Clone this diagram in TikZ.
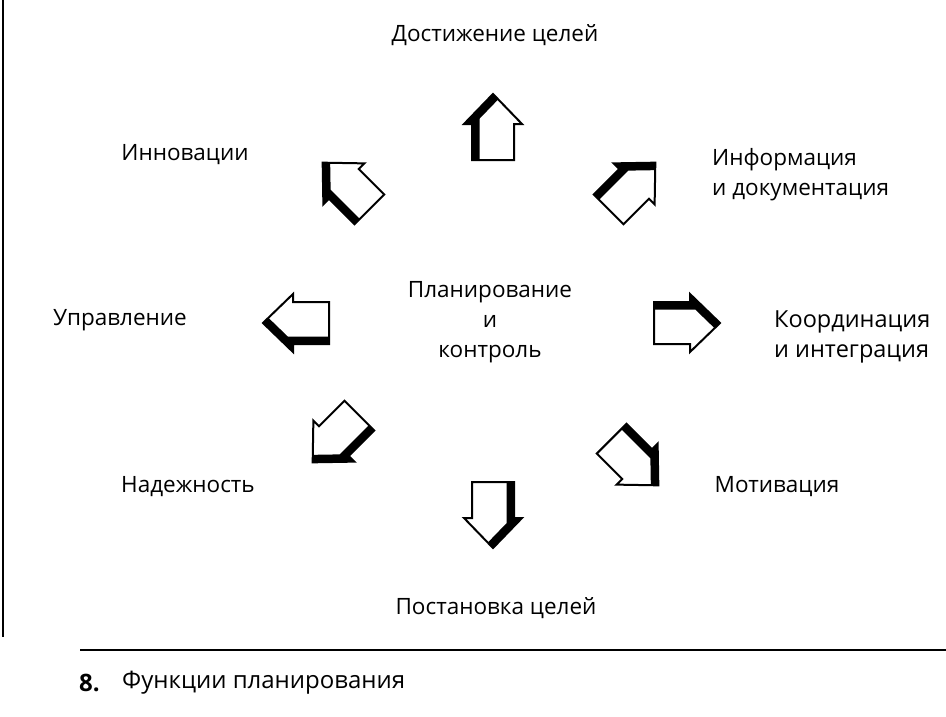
\documentclass[tikz,border=0pt]{standalone}
\usepackage{fontspec}
\setmainfont{Open Sans}
\tikzset{
  lbl/.style={font=\fontsize{22.5}{30}\selectfont, inner sep=0pt},
  biglbl/.style={font=\fontsize{23.5}{30}\selectfont, inner sep=0pt},
  caplbl/.style={font=\fontsize{24}{30}\selectfont, inner sep=0pt},
  arrface/.style={fill=white},
  arredge/.style={draw=black, line width=2pt, line join=miter},
  arrshade/.style={draw=black, line width=15pt, line join=miter}
}
\newcommand\arrshape{(0,33) -- (29,3) -- (21,3) -- (21,-33) -- (-21,-33) -- (-21,3) -- (-29,3) -- cycle}
\newcommand\blockarrow[2]{%
  \begin{scope}[shift={#1}, rotate=#2-90]
    \path[arrface] \arrshape;
    \begin{scope}
      \clip \arrshape;
      \draw[arrshade] (0,33) -- (-29,3) -- (-21,3) -- (-21,-33);
    \end{scope}
    \draw[arredge] \arrshape;
  \end{scope}}
\begin{document}
\begin{tikzpicture}[x=1pt,y=1pt]
  \useasboundingbox[fill=white] (0,0) rectangle (946,-717);
  % frame lines
  \draw[line width=1.2pt] (3,0) -- (3,-637);
  \draw[line width=1.5pt] (80,-650) -- (946,-650);
  % arrows
  \blockarrow{(493,-127)}{90}
  \blockarrow{(632,-186)}{45}
  \blockarrow{(687,-323)}{0}
  \blockarrow{(635,-462)}{-45}
  \blockarrow{(493,-515)}{-90}
  \blockarrow{(336,-439)}{-135}
  \blockarrow{(296,-323)}{180}
  \blockarrow{(346,-186)}{135}
  % labels
  \node[lbl] (goal) at (495,-35) {Достижение целей};
  \node[lbl] (innov) at (185,-155) {Инновации};
  \node[lbl, anchor=west, align=left] (info) at (712,-175) {Информация\\и документация};
  \node[lbl, align=center] (center) at (490,-322) {Планирование\\и\\контроль};
  \node[lbl] (manage) at (120,-320) {Управление};
  \node[biglbl, anchor=west, align=left] (coord) at (774,-337) {Координация\\и интеграция};
  \node[lbl] (rely) at (188,-487) {Надежность};
  \node[lbl] (motiv) at (777,-487) {Мотивация};
  \node[lbl] (setgoal) at (496,-608) {Постановка целей};
  \node[caplbl, anchor=west] (capnum) at (79,-683) {\textbf{8.}};
  \node[caplbl, anchor=west] (cap) at (122,-683) {Функции планирования};
\end{tikzpicture}
\end{document}
